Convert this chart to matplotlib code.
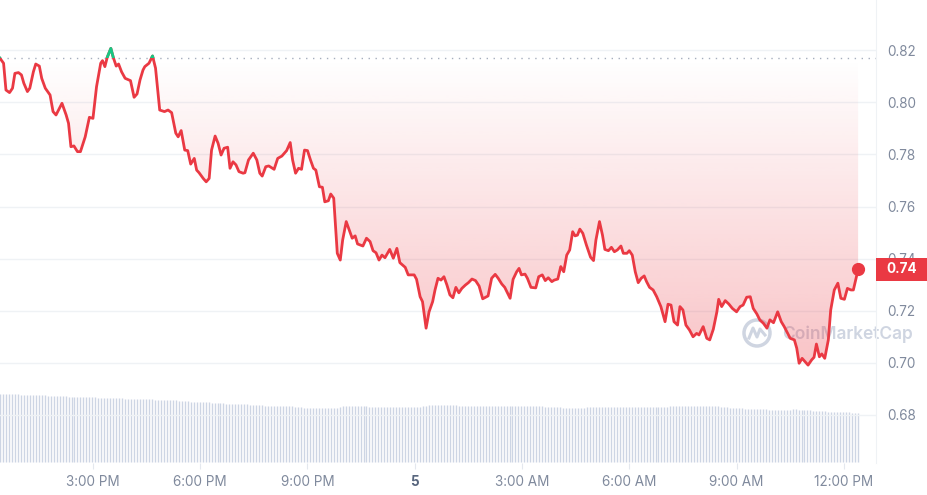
import numpy as np
import matplotlib
matplotlib.use("Agg")
import matplotlib.pyplot as plt
from matplotlib.patches import Rectangle, Polygon, Ellipse
from matplotlib.transforms import blended_transform_factory
from matplotlib.lines import Line2D

plt.rcParams['font.family'] = ['Inter', 'DejaVu Sans']

# chart data (price in USD, minutes after 12:24 PM on the 4th)
start_hour = 12.4
minutes = [0, 6, 10, 16, 21, 25, 31, 36, 40, 46, 50, 56, 60, 66, 70, 76, 84, 89, 94, 104,
           111, 115, 119, 124, 130, 135, 143, 150, 156, 162, 169, 172, 176, 180, 186, 190, 195, 199, 204, 210,
           219, 225, 230, 235, 240,
           243, 250, 256, 261, 268, 276, 282, 288, 295, 299, 304, 310, 315, 320, 326, 330, 334, 341, 346, 351,
           355, 361, 366, 371, 376, 382, 386, 391, 396, 401, 408, 411, 417, 425, 431, 436, 440, 446, 451, 460,
           466, 473, 481,
           487, 491, 496, 501, 506, 511, 516, 521, 526, 530, 536, 541, 545, 551, 555, 560, 566, 571, 575, 581,
           586, 591, 596, 600, 609, 615, 621, 626, 631, 636, 641, 646, 654, 660, 666, 671, 680, 685, 695, 699,
           705, 709, 715, 720, 726,
           730, 735, 740, 745, 750, 755, 760, 765, 770, 775, 781, 786, 792, 798, 804, 810, 815, 819, 825, 831,
           836, 842, 847, 856, 861, 867, 871, 875, 881, 885, 891, 899, 904, 910, 915, 920, 926, 930, 936, 941,
           946, 951, 956, 961, 965, 969,
           973, 978, 984, 991, 996, 1000, 1006, 1011, 1015, 1021, 1026, 1031, 1036, 1042, 1046, 1052, 1056, 1061, 1066, 1071,
           1076, 1081, 1085, 1090, 1096, 1102, 1109, 1116, 1121, 1126, 1131, 1137, 1141, 1146, 1151, 1157, 1163, 1169, 1173, 1180,
           1186, 1191, 1197, 1203, 1206, 1211,
           1217, 1223, 1229, 1236, 1242, 1247, 1253, 1259, 1264, 1270, 1275, 1281, 1287, 1292, 1298, 1305, 1311, 1316, 1326, 1333,
           1337, 1341, 1346, 1351, 1356, 1362, 1366, 1370, 1375, 1379, 1384, 1390, 1394, 1400, 1406, 1411, 1417, 1422, 1428, 1432,
           1440]

price = [0.8170, 0.8151, 0.8048, 0.8038, 0.8055, 0.8112, 0.8115, 0.8106, 0.8074, 0.8042,
         0.8055, 0.8118, 0.8148, 0.8140, 0.8093, 0.8055, 0.8029, 0.7965, 0.7952, 0.7997,
         0.7952, 0.7920, 0.7830, 0.7833, 0.7811, 0.7811, 0.7868, 0.7943, 0.7939, 0.8061,
         0.8151, 0.8161, 0.8138, 0.8174, 0.8208, 0.8174, 0.8140, 0.8148, 0.8118, 0.8093,
         0.8084, 0.8020, 0.8033, 0.8087, 0.8125,
         0.8138, 0.8151, 0.8179, 0.8132, 0.7971, 0.7965, 0.7971, 0.7961, 0.7882, 0.7868,
         0.7892, 0.7817, 0.7815, 0.7763, 0.7785, 0.7740, 0.7730, 0.7708, 0.7695, 0.7708,
         0.7817, 0.7871, 0.7843, 0.7798, 0.7824, 0.7828, 0.7747, 0.7772, 0.7760, 0.7734,
         0.7728, 0.7730, 0.7779, 0.7805, 0.7779, 0.7728, 0.7717, 0.7753, 0.7756, 0.7743,
         0.7785, 0.7794, 0.7815,
         0.7846, 0.7779, 0.7728, 0.7747, 0.7743, 0.7817, 0.7815, 0.7779, 0.7747, 0.7740,
         0.7676, 0.7674, 0.7618, 0.7622, 0.7648, 0.7632, 0.7420, 0.7394, 0.7471, 0.7542,
         0.7510, 0.7478, 0.7487, 0.7456, 0.7448, 0.7478, 0.7465, 0.7430, 0.7422, 0.7394,
         0.7413, 0.7403, 0.7435, 0.7401, 0.7439, 0.7384, 0.7366, 0.7337, 0.7337, 0.7320,
         0.7253, 0.7234, 0.7132, 0.7195, 0.7234,
         0.7279, 0.7324, 0.7317, 0.7330, 0.7298, 0.7260, 0.7249, 0.7289, 0.7268, 0.7285,
         0.7298, 0.7307, 0.7321, 0.7315, 0.7294, 0.7245, 0.7251, 0.7256, 0.7324, 0.7339,
         0.7324, 0.7302, 0.7289, 0.7247, 0.7320, 0.7349, 0.7362, 0.7337, 0.7340, 0.7324,
         0.7289, 0.7287, 0.7330, 0.7337, 0.7315, 0.7326, 0.7311, 0.7317, 0.7321, 0.7369,
         0.7349, 0.7413, 0.7433, 0.7503, 0.7487, 0.7490,
         0.7513, 0.7497, 0.7452, 0.7405, 0.7392, 0.7471, 0.7542, 0.7490, 0.7435, 0.7430,
         0.7443, 0.7426, 0.7433, 0.7448, 0.7420, 0.7420, 0.7430, 0.7413, 0.7349, 0.7307,
         0.7324, 0.7333, 0.7311, 0.7289, 0.7279, 0.7253, 0.7215, 0.7157, 0.7224, 0.7221,
         0.7157, 0.7144, 0.7215, 0.7202, 0.7144, 0.7125, 0.7099, 0.7112, 0.7106, 0.7138,
         0.7093, 0.7087, 0.7128, 0.7195, 0.7243, 0.7215,
         0.7238, 0.7225, 0.7208, 0.7195, 0.7215, 0.7221, 0.7251, 0.7253, 0.7208, 0.7187,
         0.7164, 0.7151, 0.7132, 0.7164, 0.7153, 0.7195, 0.7157, 0.7138, 0.7093, 0.7087,
         0.7055, 0.6997, 0.7016, 0.7003, 0.6990, 0.7010, 0.7020, 0.7071, 0.7022, 0.7033,
         0.7016, 0.7087, 0.7202, 0.7279, 0.7305, 0.7247, 0.7243, 0.7285, 0.7279, 0.7279,
         0.7358]

baseline = 0.8170

# volume, one bar every 5 minutes (millions)
volume = [67.7, 67.7, 67.6, 67.6, 67.5, 67.4, 67.3, 67.2, 67.1, 67.0, 67.0, 66.8,
          66.7, 66.6, 66.4, 66.3, 66.2, 66.0, 65.9, 65.8, 65.7, 65.5, 65.3, 65.1,
          65.0, 64.9, 64.8, 64.7, 64.6, 64.5, 64.4, 64.4, 64.3, 64.2, 64.2, 64.1,
          64.0, 64.0, 63.9, 63.5, 63.4, 63.3, 63.2, 63.1, 63.0, 62.9, 62.8, 62.7,
          62.6, 62.5, 62.4, 62.3, 62.2, 62.1, 62.0, 61.9, 61.8, 61.7, 61.6, 61.4,
          61.2, 61.0, 60.9, 60.7, 60.1, 60.0, 59.8, 59.7, 59.5, 59.4, 59.3, 59.2,
          59.1, 59.0, 58.8, 58.5, 58.2, 58.0, 58.0, 57.8, 57.6, 57.5, 57.4, 57.3,
          57.2, 57.1, 57.0, 56.8, 56.4, 56.0, 56.0, 55.9, 55.8, 55.7, 55.6, 55.6,
          55.5, 55.5, 55.4, 55.0, 54.6, 54.3, 54.0, 53.8, 53.7, 53.7, 53.7, 53.7,
          53.7, 53.7, 53.7, 53.7, 53.7, 53.8, 55.0, 55.3, 55.7, 55.7, 55.6, 55.6,
          55.5, 55.5, 55.4, 55.4, 55.2, 55.0, 54.8, 54.7, 54.7, 54.7, 54.7, 54.7,
          54.7, 54.7, 54.7, 54.8, 54.8, 54.9, 55.0, 55.0, 55.1, 55.2, 55.3, 55.4,
          56.4, 56.6, 57.0, 57.0, 56.9, 56.8, 56.6, 56.5, 56.4, 56.3, 56.2, 56.1,
          55.9, 55.8, 55.7, 55.7, 55.7, 55.7, 55.7, 55.7, 55.7, 55.7, 55.7, 55.7,
          55.7, 55.7, 55.7, 55.7, 55.7, 55.7, 55.7, 55.7, 55.7, 55.7, 55.7, 55.6,
          55.6, 55.5, 55.4, 55.2, 55.0, 54.8, 54.6, 54.5, 54.3, 54.2, 54.1, 54.0,
          53.8, 53.6, 53.5, 53.4, 54.0, 54.5, 54.7, 54.7, 54.7, 54.7, 54.6, 54.6,
          54.6, 54.6, 54.6, 54.5, 54.5, 54.5, 54.5, 54.5, 54.5, 54.5, 54.5, 54.5,
          54.4, 54.4, 54.4, 54.4, 54.4, 54.4, 54.4, 55.0, 55.2, 55.4, 55.4, 55.4,
          55.4, 55.4, 55.4, 55.5, 55.6, 55.7, 55.7, 55.7, 55.7, 55.7, 55.7, 55.7,
          55.6, 55.4, 55.2, 55.0, 54.6, 54.2, 53.8, 53.7, 53.5, 53.3, 53.1, 53.0,
          52.8, 52.6, 52.5, 52.4, 52.4, 52.3, 52.2, 52.1, 52.0, 51.9, 51.8, 51.6,
          51.5, 51.4, 52.4, 52.4, 52.2, 52.0, 51.8, 51.7, 51.7, 51.2, 51.0, 50.7,
          50.5, 50.3, 50.1, 50.0, 49.9, 49.7, 49.6, 49.5, 49.4, 49.3, 49.2, 49.1,
          49.0]

tick_hours = [15, 18, 21, 24, 27, 30, 33, 36]
tick_labels = ['3:00 PM', '6:00 PM', '9:00 PM', '5', '3:00 AM', '6:00 AM', '9:00 AM', '12:00 PM']
price_ticks = [0.68, 0.70, 0.72, 0.74, 0.76, 0.78, 0.80, 0.82]

RED = '#ea3943'
GREEN = '#16c784'
GRAY = '#808a9d'

hours = np.array([start_hour + m / 60 for m in minutes])
price = np.array(price)
vol_hours = np.array([start_hour + i * 5 / 60 for i in range(len(volume))])

fig = plt.figure(figsize=(9.28, 4.95), dpi=100, facecolor='white')
ax = fig.add_axes([0, 32 / 495, 876 / 928, 463 / 495])
ax_v = ax.twinx()
ax.set_zorder(ax_v.get_zorder() + 1)
ax.patch.set_visible(False)
ax_v.patch.set_visible(False)

x_lo, x_hi = start_hour, start_hour + 1470 / 60
y_lo, y_hi = 0.66135, 0.83942

# volume bars
ax_v.vlines(vol_hours, 0, volume, color='#cdd5e4', lw=1.0)
ax_v.set_ylim(-1.3, 461.7)
ax_v.axis('off')

# gradient fill between line and baseline
grad = np.zeros((256, 1, 4))
grad[:, 0, 0] = 234 / 255
grad[:, 0, 1] = 57 / 255
grad[:, 0, 2] = 67 / 255
grad[:, 0, 3] = np.linspace(0.30, 0.0, 256)
im = ax.imshow(grad, extent=[hours[0], hours[-1], 0.699, baseline], origin='lower',
               aspect='auto', zorder=2, interpolation='bilinear')
verts = [(hours[0], baseline)] + list(zip(hours, price)) + [(hours[-1], baseline)]
clip = Polygon(verts, closed=True, transform=ax.transData)
im.set_clip_path(clip)

# baseline dotted
ax.axhline(baseline, color='#a6aebd', lw=1.0, linestyle=(0, (1, 4)), zorder=3)

# price line, green above the baseline
ax.plot(hours, price, color=RED, lw=2.0, zorder=4, solid_joinstyle='round')
green_line, = ax.plot(hours, price, color=GREEN, lw=2.0, zorder=5, solid_joinstyle='round')
green_line.set_clip_path(Rectangle((x_lo, baseline), x_hi - x_lo, 1, transform=ax.transData))
ax.plot(hours[-1], price[-1], 'o', ms=8.5, color=RED, zorder=6)

ax.set_xlim(x_lo, x_hi)
ax.set_ylim(y_lo, y_hi)

ax.yaxis.tick_right()
ax.set_yticks(price_ticks)
ax.set_yticklabels(['%.2f' % p for p in price_ticks])
ax.tick_params(axis='y', length=0, pad=8, labelsize=9.75, labelcolor=GRAY)
ax.yaxis.grid(True, color='#eff2f5', lw=1.0)
ax.set_axisbelow(True)

ax.set_xticks(tick_hours)
ax.set_xticklabels(tick_labels)
ax.tick_params(axis='x', length=4, color='#e4e8ee', pad=4.5, labelsize=9.75, labelcolor=GRAY)
for lbl in ax.get_xticklabels():
    if lbl.get_text() == '5':
        lbl.set_fontweight('bold')
        lbl.set_color('#58667e')

for side in ['top', 'left', 'bottom']:
    ax.spines[side].set_visible(False)
ax.spines['right'].set_color('#eff2f5')

# current price tag
tr = blended_transform_factory(ax.transAxes, ax.transData)
ax.add_patch(Rectangle((1.0, price[-1] - 0.0044), 52 / 876, 0.0088, transform=tr,
                       facecolor=RED, edgecolor='none', clip_on=False, zorder=10))
ax.text(1.0 + 26 / 876, price[-1], '%.2f' % price[-1], transform=tr, ha='center', va='center',
        color='white', fontsize=9.75, fontweight='bold', zorder=11, clip_on=False)

# watermark
wm = '#cfd5e1'
fig.text(782 / 928, 1 - 334 / 495, 'CoinMarketCap', color=wm, fontsize=12.5, fontweight='semibold',
         ha='left', va='center', zorder=-1)
fig.add_artist(Ellipse((757 / 928, 1 - 333 / 495), 26 / 928, 26 / 495, transform=fig.transFigure,
                       facecolor='none', edgecolor=wm, lw=2.5, zorder=-1))
fig.add_artist(Line2D([749 / 928, 753 / 928, 757 / 928, 760 / 928, 765 / 928],
                      [1 - 338 / 495, 1 - 328 / 495, 1 - 337 / 495, 1 - 329 / 495, 1 - 335 / 495],
                      transform=fig.transFigure, color=wm, lw=2.2, zorder=-1))

fig.savefig('out.png', dpi=100, facecolor='white')
